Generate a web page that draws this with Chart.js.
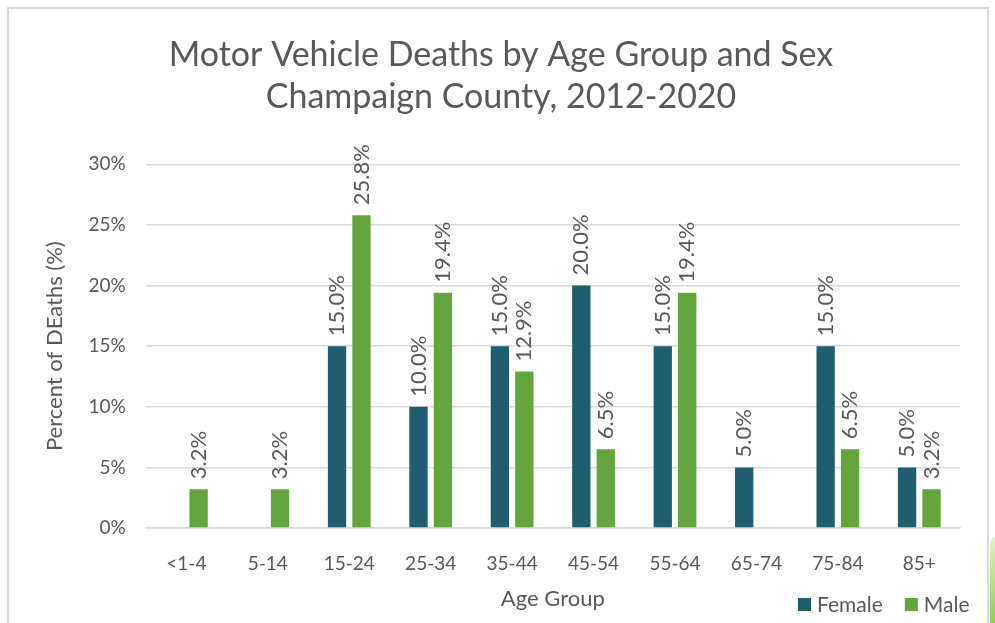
<!DOCTYPE html>
<html><head><meta charset="utf-8">
<script src="https://cdn.jsdelivr.net/npm/chart.js@4/dist/chart.umd.min.js"></script>
<style>
html,body{margin:0;padding:0;background:#fff;width:995px;height:623px;overflow:hidden;}
#frame{position:absolute;left:7px;top:7px;width:982px;height:640px;border:2px solid #d9d9d9;box-sizing:border-box;}
#deco{position:absolute;left:990px;top:535px;width:20px;height:100px;background:linear-gradient(#e5f0cf,#8cc63f);border-radius:10px 0 0 0;}
#wrap{position:absolute;left:0;top:0;width:995px;height:623px;}
</style></head>
<body>
<div id="deco"></div>
<div id="frame"></div>
<div id="wrap"><canvas id="c" width="995" height="623"></canvas></div>
<script>
const categories = ["<1-4","5-14","15-24","25-34","35-44","45-54","55-64","65-74","75-84","85+"];
const femaleValues = [0,0,15.0,10.0,15.0,20.0,15.0,5.0,15.0,5.0];
const maleValues = [3.2,3.2,25.8,19.4,12.9,6.5,19.4,0,6.5,3.2];
const seriesNames = ["Female","Male"];
const yTicks = [0,5,10,15,20,25,30];

const FONT = "Lato, 'Open Sans', sans-serif";
const TXT = "#595959";

const labelPlugin = {
  id:'barLabels',
  afterDatasetsDraw(chart){
    const ctx = chart.ctx;
    ctx.save();
    ctx.font = "22px " + FONT;
    ctx.fillStyle = TXT;
    ctx.textAlign = 'left';
    ctx.textBaseline = 'middle';
    chart.data.datasets.forEach((ds,i)=>{
      const meta = chart.getDatasetMeta(i);
      meta.data.forEach((el,j)=>{
        const v = ds.data[j];
        if(!v) return;
        ctx.save();
        ctx.translate(el.x, el.y - 10);
        ctx.rotate(-Math.PI/2);
        ctx.fillText(v.toFixed(1)+'%', 0, 0);
        ctx.restore();
      });
    });
    ctx.restore();
  }
};

const legendPlugin = {
  id:'customLegend',
  afterDraw(chart){
    const ctx = chart.ctx;
    ctx.save();
    ctx.font = "21px " + FONT;
    ctx.textBaseline = 'middle';
    ctx.textAlign = 'left';
    let x = 798; const y = 605;
    chart.data.datasets.forEach(ds=>{
      ctx.fillStyle = ds.backgroundColor;
      ctx.fillRect(x, y-7, 13, 13);
      ctx.fillStyle = TXT;
      ctx.fillText(ds.label, x+19, y);
      x += 19 + ctx.measureText(ds.label).width + 22;
    });
    ctx.restore();
  }
};

new Chart(document.getElementById('c'), {
  type:'bar',
  data:{
    labels: categories,
    datasets:[
      {label:seriesNames[0], data:femaleValues, backgroundColor:'#1f5e6e', categoryPercentage:0.6, barPercentage:0.75},
      {label:seriesNames[1], data:maleValues, backgroundColor:'#62a53b', categoryPercentage:0.6, barPercentage:0.75}
    ]
  },
  options:{
    responsive:false,
    animation:false,
    layout:{padding:{left:42,right:35,top:34,bottom:11}},
    plugins:{
      legend:{display:false},
      tooltip:{enabled:false},
      title:{display:true, text:["Motor Vehicle Deaths by Age Group and Sex","Champaign County, 2012-2020"], color:TXT,
        font:{family:FONT,size:34,weight:'normal',lineHeight:1.24}, padding:{top:0,bottom:46}}
    },
    scales:{
      x:{
        grid:{display:false, drawTicks:false},
        border:{display:true,color:'#d9d9d9',width:1.5},
        ticks:{color:TXT,font:{family:FONT,size:19},padding:24,maxRotation:0},
        title:{display:true,text:"Age Group",color:TXT,font:{family:FONT,size:22},padding:{top:12,bottom:0}},
        afterFit(scale){ scale.height = 84; }
      },
      y:{
        min:0,max:30,
        afterBuildTicks(axis){ axis.ticks = yTicks.map(v=>({value:v})); },
        grid:{color:'#d9d9d9',lineWidth:1.5,drawTicks:false},
        border:{display:false},
        ticks:{color:TXT,font:{family:FONT,size:19},padding:20,callback:v=>v+'%'},
        title:{display:true,text:"Percent of DEaths (%)",color:TXT,font:{family:FONT,size:22},padding:{top:0,bottom:0}}
      }
    }
  },
  plugins:[labelPlugin, legendPlugin]
});
</script>
</body></html>
